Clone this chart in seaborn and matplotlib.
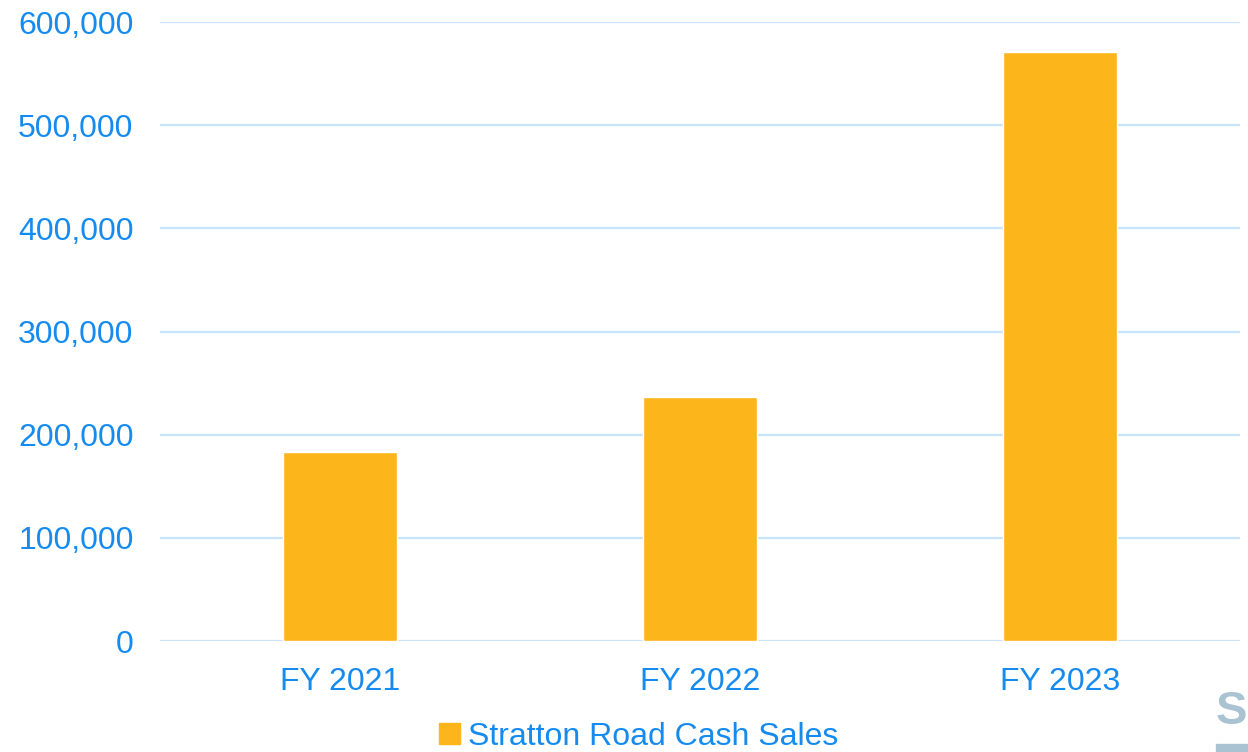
import matplotlib
matplotlib.use("Agg")
import matplotlib.pyplot as plt
import matplotlib.patches as mpatches
import pandas as pd
import seaborn as sns

# data
years = ["FY 2021", "FY 2022", "FY 2023"]
cash_sales = [183000, 236500, 571000]
series_name = "Stratton Road Cash Sales"

BAR_COLOR = "#FDB51C"
TEXT_COLOR = "#158BF0"
GRID_COLOR = "#C9E4FA"

sns.set_theme(style="white")
plt.rcParams["font.family"] = ["Liberation Sans", "DejaVu Sans"]

df = pd.DataFrame({"year": years, "sales": cash_sales})

fig = plt.figure(figsize=(12.48, 7.52), dpi=100)
ax = fig.add_axes([0.1282, 0.1476, 0.8654, 0.8231])

sns.barplot(data=df, x="year", y="sales", color=BAR_COLOR, saturation=1,
            width=0.314, ax=ax, zorder=3)

ax.set_ylim(0, 600000)
ax.set_xlim(-0.5, 2.5)
ax.set_yticks(range(0, 600001, 100000))
ax.yaxis.set_major_formatter(matplotlib.ticker.FuncFormatter(lambda v, p: f"{int(v):,}"))
ax.set_xlabel("")
ax.set_ylabel("")
ax.grid(axis="y", color=GRID_COLOR, linewidth=1.6, zorder=0)
ax.set_axisbelow(True)
for s in ax.spines.values():
    s.set_visible(False)
ax.tick_params(axis="y", length=0, pad=19, labelsize=23, labelcolor=TEXT_COLOR)
ax.tick_params(axis="x", length=0, pad=19, labelsize=23, labelcolor=TEXT_COLOR)

handle = mpatches.Patch(color=BAR_COLOR)
fig.legend([handle], [series_name], loc="center", bbox_to_anchor=(0.512, 0.02),
           frameon=False, fontsize=23, labelcolor=TEXT_COLOR,
           handlelength=0.65, handleheight=0.65, handletextpad=0.25, borderpad=0)

# partial logo in the bottom-right corner
fig.text(0.9995, 0.024, "S", ha="right", va="bottom", fontsize=34, fontweight="bold",
         color="#A9C3D3")
fig.patches.append(mpatches.Rectangle((0.974, 0.0), 0.03, 0.011, transform=fig.transFigure,
                                      color="#A9C3D3", figure=fig))

fig.savefig("out.png", dpi=100)
